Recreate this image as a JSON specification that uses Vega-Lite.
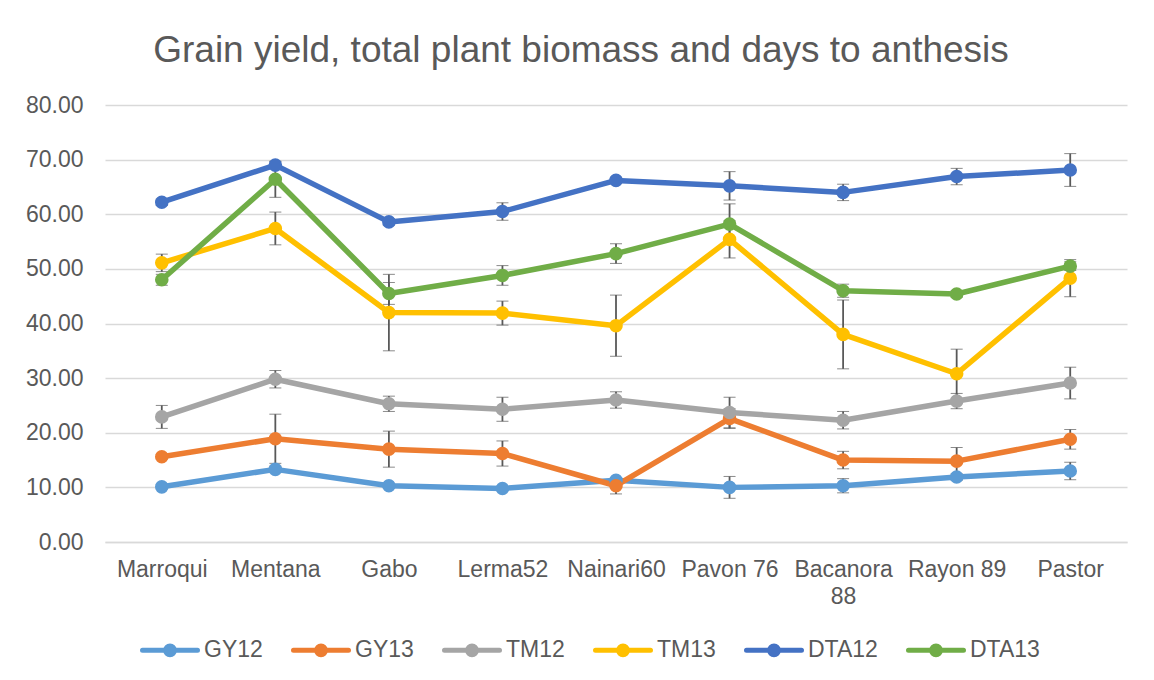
{
  "$schema": "https://vega.github.io/schema/vega-lite/v6.json",
  "width": 1022,
  "height": 437,
  "autosize": {"type": "none"},
  "padding": {"left": 105, "top": 105, "right": 27, "bottom": 138},
  "background": "white",
  "config": {"font": "Liberation Sans", "view": {"stroke": null}},
  "title": {"text": "Grain yield, total plant biomass and days to anthesis", "fontSize": 37, "fontWeight": "normal", "color": "#595959", "anchor": "middle", "dx": -35, "offset": 24},
  "data": {"values": [
    {"variety": "Marroqui", "series": "GY12", "value": 10.1, "err": 0.4},
    {"variety": "Mentana", "series": "GY12", "value": 13.3, "err": 0.6},
    {"variety": "Gabo", "series": "GY12", "value": 10.3, "err": 0.4},
    {"variety": "Lerma52", "series": "GY12", "value": 9.8, "err": 0.4},
    {"variety": "Nainari60", "series": "GY12", "value": 11.3, "err": 0.5},
    {"variety": "Pavon 76", "series": "GY12", "value": 10.0, "err": 2.0},
    {"variety": "Bacanora 88", "series": "GY12", "value": 10.3, "err": 1.3},
    {"variety": "Rayon 89", "series": "GY12", "value": 11.9, "err": 0.6},
    {"variety": "Pastor", "series": "GY12", "value": 13.0, "err": 1.6},
    {"variety": "Marroqui", "series": "GY13", "value": 15.6, "err": 0.4},
    {"variety": "Mentana", "series": "GY13", "value": 18.9, "err": 4.5},
    {"variety": "Gabo", "series": "GY13", "value": 17.0, "err": 3.3},
    {"variety": "Lerma52", "series": "GY13", "value": 16.2, "err": 2.3},
    {"variety": "Nainari60", "series": "GY13", "value": 10.3, "err": 1.5},
    {"variety": "Pavon 76", "series": "GY13", "value": 22.6, "err": 1.8},
    {"variety": "Bacanora 88", "series": "GY13", "value": 15.0, "err": 1.6},
    {"variety": "Rayon 89", "series": "GY13", "value": 14.8, "err": 2.5},
    {"variety": "Pastor", "series": "GY13", "value": 18.8, "err": 1.8},
    {"variety": "Marroqui", "series": "TM12", "value": 22.9, "err": 2.1},
    {"variety": "Mentana", "series": "TM12", "value": 29.8, "err": 1.6},
    {"variety": "Gabo", "series": "TM12", "value": 25.3, "err": 1.4},
    {"variety": "Lerma52", "series": "TM12", "value": 24.3, "err": 2.2},
    {"variety": "Nainari60", "series": "TM12", "value": 26.0, "err": 1.5},
    {"variety": "Pavon 76", "series": "TM12", "value": 23.7, "err": 2.8},
    {"variety": "Bacanora 88", "series": "TM12", "value": 22.3, "err": 1.6},
    {"variety": "Rayon 89", "series": "TM12", "value": 25.8, "err": 1.4},
    {"variety": "Pastor", "series": "TM12", "value": 29.1, "err": 2.9},
    {"variety": "Marroqui", "series": "TM13", "value": 51.1, "err": 1.6},
    {"variety": "Mentana", "series": "TM13", "value": 57.4, "err": 3.0},
    {"variety": "Gabo", "series": "TM13", "value": 42.0, "err": 7.0},
    {"variety": "Lerma52", "series": "TM13", "value": 41.9, "err": 2.2},
    {"variety": "Nainari60", "series": "TM13", "value": 39.6, "err": 5.6},
    {"variety": "Pavon 76", "series": "TM13", "value": 55.4, "err": 3.4},
    {"variety": "Bacanora 88", "series": "TM13", "value": 38.0, "err": 6.3},
    {"variety": "Rayon 89", "series": "TM13", "value": 30.8, "err": 4.5},
    {"variety": "Pastor", "series": "TM13", "value": 48.3, "err": 3.4},
    {"variety": "Marroqui", "series": "DTA12", "value": 62.2, "err": 0.6},
    {"variety": "Mentana", "series": "DTA12", "value": 69.0, "err": 0.6},
    {"variety": "Gabo", "series": "DTA12", "value": 58.6, "err": 0.6},
    {"variety": "Lerma52", "series": "DTA12", "value": 60.5, "err": 1.6},
    {"variety": "Nainari60", "series": "DTA12", "value": 66.2, "err": 0.6},
    {"variety": "Pavon 76", "series": "DTA12", "value": 65.2, "err": 2.6},
    {"variety": "Bacanora 88", "series": "DTA12", "value": 64.0, "err": 1.5},
    {"variety": "Rayon 89", "series": "DTA12", "value": 66.9, "err": 1.5},
    {"variety": "Pastor", "series": "DTA12", "value": 68.1, "err": 3.0},
    {"variety": "Marroqui", "series": "DTA13", "value": 48.0, "err": 1.0},
    {"variety": "Mentana", "series": "DTA13", "value": 66.4, "err": 3.3},
    {"variety": "Gabo", "series": "DTA13", "value": 45.5, "err": 2.0},
    {"variety": "Lerma52", "series": "DTA13", "value": 48.8, "err": 1.8},
    {"variety": "Nainari60", "series": "DTA13", "value": 52.8, "err": 1.8},
    {"variety": "Pavon 76", "series": "DTA13", "value": 58.2, "err": 3.7},
    {"variety": "Bacanora 88", "series": "DTA13", "value": 46.0, "err": 1.2},
    {"variety": "Rayon 89", "series": "DTA13", "value": 45.4, "err": 0.6},
    {"variety": "Pastor", "series": "DTA13", "value": 50.5, "err": 0.8}
  ]},
  "encoding": {
    "x": {
      "field": "variety", "type": "nominal",
      "sort": ["Marroqui", "Mentana", "Gabo", "Lerma52", "Nainari60", "Pavon 76", "Bacanora 88", "Rayon 89", "Pastor"],
      "scale": {"type": "point", "padding": 0.5},
      "axis": {"title": null, "labelAngle": 0, "labelFontSize": 23, "labelColor": "#595959", "labelPadding": 16, "ticks": false, "domain": true, "domainColor": "#d9d9d9", "domainWidth": 1.5, "grid": false, "labelOverlap": false, "labelBound": false, "labelLineHeight": 27, "labelBaseline": "top",
        "labelExpr": "datum.value == 'Bacanora 88' ? ['Bacanora', '88'] : datum.value"}
    }
  },
  "layer": [
    {
      "mark": {"type": "errorbar", "ticks": {"size": 12, "color": "#595959", "strokeWidth": 1.8}, "rule": {"color": "#595959", "strokeWidth": 1.8}},
      "encoding": {
        "y": {"field": "value", "type": "quantitative", "scale": {"domain": [0, 80], "nice": false},
          "axis": {"title": null, "values": [0, 10, 20, 30, 40, 50, 60, 70, 80], "format": ".2f", "grid": true, "gridColor": "#d9d9d9", "gridWidth": 1.5, "domain": false, "ticks": false, "labelFontSize": 23, "labelColor": "#595959", "labelPadding": 22}},
        "yError": {"field": "err"}
      }
    },
    {
      "mark": {"type": "line", "strokeWidth": 5.5, "strokeCap": "round", "strokeJoin": "round"},
      "encoding": {
        "y": {"field": "value", "type": "quantitative"},
        "color": {"field": "series", "type": "nominal",
          "scale": {"domain": ["GY12", "GY13", "TM12", "TM13", "DTA12", "DTA13"], "range": ["#5B9BD5", "#ED7D31", "#A5A5A5", "#FFC000", "#4472C4", "#70AD47"]},
          "legend": {"orient": "none", "legendX": 35, "legendY": 515, "direction": "horizontal", "title": null,
            "symbolType": "M-1,0H1M0.16,0A0.16,0.16,0,1,1,-0.16,0A0.16,0.16,0,1,1,0.16,0Z",
            "symbolSize": 3025, "symbolStrokeWidth": 5, "labelFontSize": 23, "labelColor": "#595959", "labelOffset": 4, "columnPadding": 20,
            "encode": {"symbols": {"update": {"fill": {"scale": "color", "field": "value"}, "stroke": {"scale": "color", "field": "value"}, "opacity": {"value": 1}, "strokeCap": {"value": "round"}}}}}
        }
      }
    },
    {
      "mark": {"type": "point", "filled": true, "size": 185, "opacity": 1},
      "encoding": {
        "y": {"field": "value", "type": "quantitative"},
        "color": {"field": "series", "type": "nominal"}
      }
    }
  ]
}
